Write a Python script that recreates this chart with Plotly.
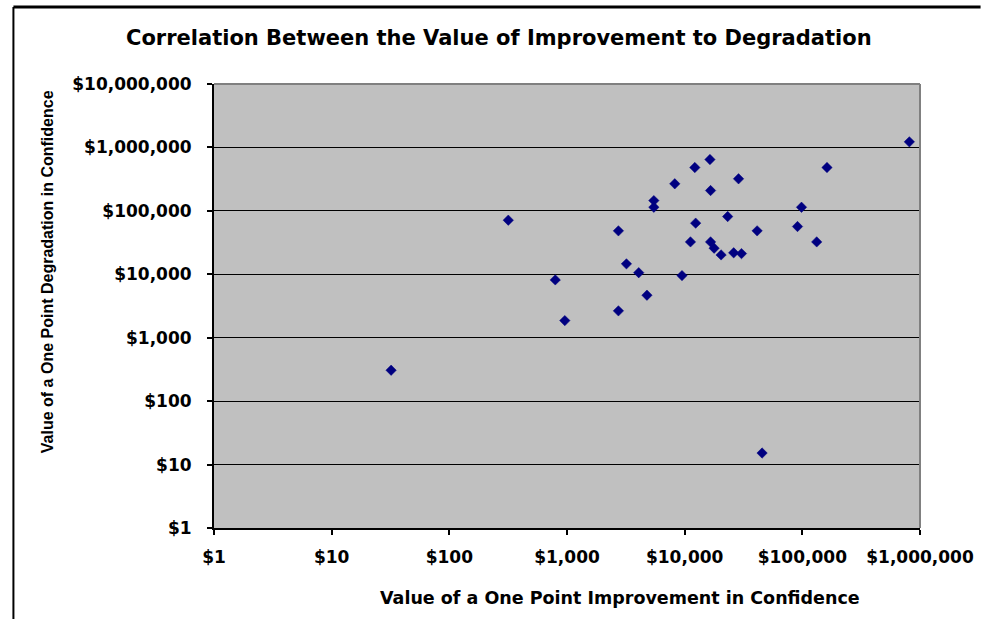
import plotly.graph_objects as go

# Data
improvement_value = [32, 317, 795, 958, 2735, 45500, 812000, 16400, 12200, 162000,
                     28700, 8240, 16600, 5470, 5470, 98400, 23200, 12400, 2735, 41300,
                     91000, 11200, 16600, 17800, 132500, 20400, 26100, 30400, 3200, 4070,
                     9490, 4780]
degradation_value = [307, 71300, 8160, 1860, 2650, 15.2, 1225000, 644000, 482000, 482000,
                     320000, 267000, 209000, 145000, 114000, 114000, 81300, 64000, 48400, 48400,
                     56600, 32400, 32400, 25800, 32400, 20200, 21800, 21200, 14600, 10600,
                     9540, 4680]

x_tick_vals = [1, 10, 100, 1000, 10000, 100000, 1000000]
x_tick_text = ["$1", "$10", "$100", "$1,000", "$10,000", "$100,000", "$1,000,000"]
y_tick_vals = [1, 10, 100, 1000, 10000, 100000, 1000000, 10000000]
y_tick_text = ["$1", "$10", "$100", "$1,000", "$10,000", "$100,000", "$1,000,000", "$10,000,000"]

title_text = "Correlation Between the Value of Improvement to Degradation"
x_title = "Value of a One Point Improvement in Confidence"
y_title = "Value of a One Point Degradation in Confidence"

W, H = 986, 619
L, R, T, B = 214, 61, 84, 91
pw, ph = W - L - R, H - T - B

def px(xp):
    return (xp - L) / pw

def py(yp):
    return (H - B - yp) / ph

fig = go.Figure()
fig.add_trace(go.Scatter(
    x=improvement_value, y=degradation_value, mode="markers",
    marker=dict(symbol="diamond", size=8, color="#000080",
                line=dict(width=0.5, color="#000080")),
    showlegend=False,
))

tick_font = dict(family="DejaVu Sans", size=17, color="black", weight="bold")

fig.update_layout(
    width=W, height=H,
    margin=dict(l=L, r=R, t=T, b=B, pad=0),
    paper_bgcolor="white",
    plot_bgcolor="#C0C0C0",
    xaxis=dict(type="log", range=[0, 6], tickvals=x_tick_vals, ticktext=x_tick_text,
               showgrid=False, zeroline=False, showline=True, linecolor="black",
               linewidth=2, ticks="outside", ticklen=5, tickwidth=2, tickcolor="black",
               tickfont=tick_font, ticklabelstandoff=8),
    yaxis=dict(type="log", range=[0, 7], tickvals=y_tick_vals, ticktext=y_tick_text,
               showgrid=True, gridcolor="black", gridwidth=1, zeroline=False,
               showline=True, linecolor="black", linewidth=2, ticks="outside",
               ticklen=5, tickwidth=2, tickcolor="black", tickfont=tick_font,
               ticklabelstandoff=12),
    shapes=[
        dict(type="line", xref="paper", yref="paper", x0=0, x1=1, y0=1, y1=1,
             line=dict(color="#808080", width=2), layer="above"),
        dict(type="line", xref="paper", yref="paper", x0=1, x1=1, y0=0, y1=1,
             line=dict(color="#808080", width=2), layer="above"),
        dict(type="line", xref="paper", yref="paper", x0=px(12), x1=px(986), y0=py(7), y1=py(7),
             line=dict(color="black", width=3)),
        dict(type="line", xref="paper", yref="paper", x0=px(12), x1=px(12), y0=py(7), y1=py(619),
             line=dict(color="black", width=2)),
    ],
    annotations=[
        dict(text=title_text, xref="paper", yref="paper", x=px(501), y=py(38),
             showarrow=False, xanchor="center", yanchor="middle",
             font=dict(family="DejaVu Sans", size=21, color="black", weight="bold")),
        dict(text=x_title, xref="paper", yref="paper", x=px(623), y=py(598),
             showarrow=False, xanchor="center", yanchor="middle",
             font=dict(family="DejaVu Sans", size=17.5, color="black", weight="bold")),
        dict(text=y_title, xref="paper", yref="paper", x=px(46), y=py(272),
             showarrow=False, xanchor="center", yanchor="middle", textangle=-90,
             font=dict(family="Liberation Sans", size=16, color="black", weight="bold")),
    ],
)

fig.write_html("out.html", config={"displayModeBar": False},
               post_script="document.body.style.margin='0';")
